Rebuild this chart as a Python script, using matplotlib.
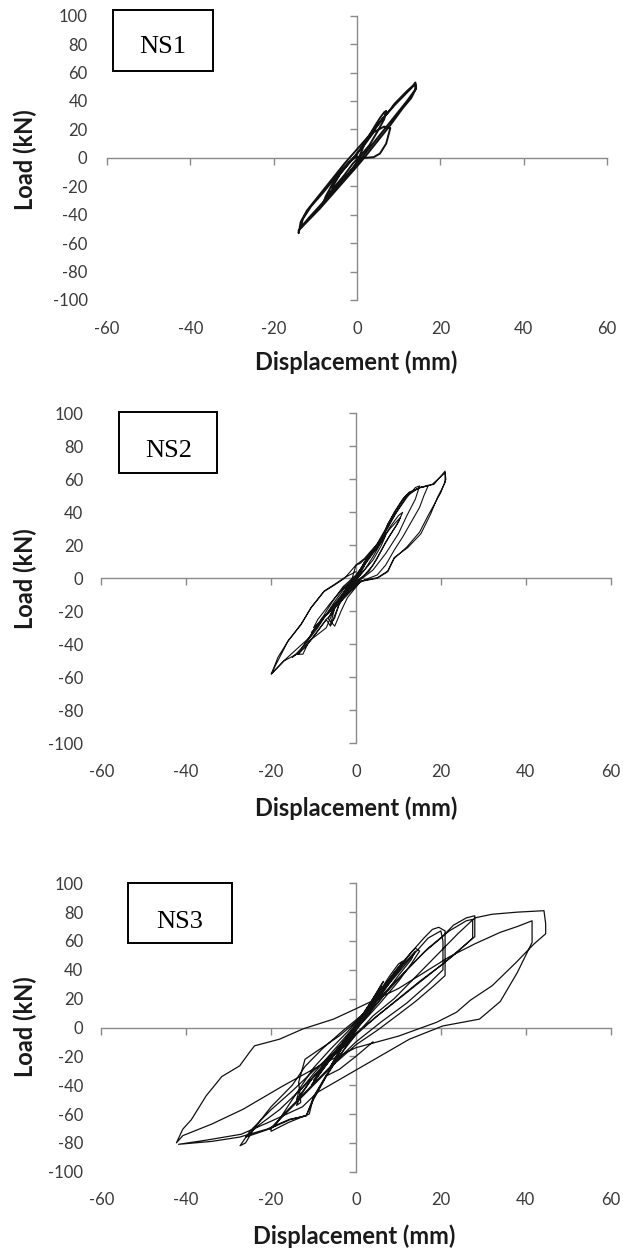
import matplotlib
matplotlib.use('Agg')
import matplotlib.pyplot as plt
from matplotlib.patches import Rectangle

# ---------------- data (displacement mm, load kN) ----------------
ns1_points = [
    (0, 0), (2, 0), (4, 0.5), (5.5, 3), (7, 10), (8, 21), (6.5, 22), (4, 18), (2, 10), (0, 3),
    (-2, -4), (-4, -11), (-5, -16), (-6, -21), (-5.5, -22), (-4, -18), (-2, -11), (0, -3), (1, 4),
    (2, 11), (4, 21), (5.5, 28), (6.5, 32), (7, 33), (6.5, 27), (5, 19), (3, 9), (1, 2), (-1, -4),
    (-3, -12), (-5, -19), (-7, -26), (-8, -31), (-7.5, -27), (-6, -19), (-4, -11), (-2, -4), (0, 3),
    (2, 11), (4, 19), (6, 27), (8, 34), (9, 38),
    (10, 41), (12, 47), (13.5, 51), (14, 53), (14.2, 49), (13, 42), (11, 35), (8, 23), (5, 12),
    (2, 1), (0, -6), (-3, -16), (-6, -26), (-9, -36), (-12, -45), (-14, -51), (-14, -53),
    (-13.5, -45), (-12, -37), (-9, -26), (-6, -15), (-3, -4), (0, 6), (3, 16), (6, 27), (9, 37),
    (11, 43), (13, 49), (14, 52), (14, 48), (12, 40), (9, 29), (6, 18), (3, 7), (0, -4),
    (-3, -14), (-6, -24), (-9, -34), (-11.5, -42), (-13.5, -49), (-13, -43), (-11, -34), (-8, -24),
    (-5, -13), (-2, -3), (0, 1),
]

ns2_points = [
    (0, 0), (1, 5), (2, 10), (3, 13), (2, 8), (0, 1), (-1, -4), (-2, -8), (-3, -12), (-2, -8), (0, 0),
    (1.5, 7), (3, 13), (1.5, 5), (0, -1), (-1.5, -6), (-3, -12), (-1.5, -5), (0, 0),
    (2, 9), (4, 17), (6, 24), (7, 28), (6, 22), (4, 13), (2, 5), (0, -1), (-2, -7), (-4, -13),
    (-6, -22), (-6.5, -24), (-5, -18), (-3, -9), (-1, -1), (0, 8), (1, 9), (3, 14), (5, 20), (7, 26),
    (6, 20), (4, 11), (1, 2), (-2, -8), (-5, -18), (-6, -28), (-5, -24), (-4, -16), (-2, -6), (0, 0),
    (2, 8), (4, 15), (6, 22), (8, 31), (10, 38), (11, 40), (10, 34), (8, 26), (6, 17), (4, 8), (2, 2),
    (0, -3), (-3, -10), (-6, -19), (-9, -28), (-10.5, -33), (-9, -29), (-7, -20), (-5, -12), (-3, -5),
    (0, 2), (3, 12), (6, 23), (8, 30), (10.5, 37), (9.5, 32), (7, 22), (5, 12), (3, 4), (0, -2),
    (-3, -11), (-6, -20), (-10, -30), (-9, -25), (-6, -15), (-3, -6), (0, 1),
    (3, 14), (5, 21), (7, 30), (9, 40), (11, 48), (12.5, 52), (15, 55), (17, 56), (16, 50), (15, 43),
    (13, 34), (11, 25), (9, 17), (7, 8), (5, 2), (2, -1), (0, -4), (-3, -12), (-5, -18), (-6, -24),
    (-7, -30), (-9, -34), (-11, -38), (-13.5, -46), (-14, -46), (-12, -40), (-9, -30), (-7, -22),
    (-5, -14), (-3, -7), (0, 1), (3, 12), (6, 24), (9, 38), (12, 49), (14, 55), (15, 56), (14, 48),
    (12, 38), (10, 27), (7, 15), (4, 5), (1, -1), (-2, -8), (-4, -16), (-6, -29), (-7, -25), (-9, -32),
    (-12, -42), (-15, -48), (-13, -43), (-10, -32), (-7, -22), (-4, -12), (-1, -2),
    (2, 9), (4, 17), (6, 24), (8, 33), (10, 42), (12, 50), (15, 55), (18, 57), (21, 64), (21.2, 60),
    (20, 52), (18.5, 45), (17, 38), (15, 28), (12, 19), (9, 12), (7.5, 4), (5, 0), (1, -2), (-2, -10),
    (-5, -18), (-8, -24), (-11, -36), (-14, -43), (-17, -50), (-20, -58), (-18, -48), (-16, -38),
    (-13, -28), (-10.6, -18), (-7.5, -8), (-5, -4), (-2.7, 0), (0, 8), (2, 12), (3.5, 16.5), (6, 23),
    (7.5, 33), (9.4, 41), (11.4, 49), (12.5, 52), (15.3, 55), (18.4, 57), (21, 65), (21, 58),
    (19.2, 49), (17.6, 39), (15.3, 27), (12.2, 18.6), (9, 12.5), (7.5, 4.4), (5.1, 0.4), (1.2, -1.6),
    (-2, -11.7), (-3.5, -19.8), (-5, -29), (-6.7, -24), (-11.4, -40), (-12.5, -46), (-14, -46),
    (-16.9, -50), (-19.9, -58), (-18.4, -48), (-16, -38), (-12.9, -28), (-10.6, -17.8), (-7.5, -7.7),
    (-5, -3.6), (-2.7, 0.4), (0, 4),
]

ns3_points = [
    (0, 0), (1.5, 8), (3, 15), (2, 10), (0, 2), (-1.5, -6), (-3, -14), (-2, -10), (0, -2), (1.5, 7),
    (3, 14), (2, 9), (0, 1), (-1.5, -7), (-3, -13), (-2, -9), (0, 0),
    (2, 10), (4, 20), (6, 30), (6.5, 32), (5, 24), (3, 14), (1, 5), (-1, -3), (-3, -12), (-5, -22),
    (-6.5, -30), (-6, -28), (-4, -18), (-2, -8), (0, 2), (2, 11), (4, 20), (6, 29), (5.5, 26), (3, 14),
    (0, 0), (-3, -13), (-6, -27), (-5, -22), (-3, -12), (0, 0),
    (3, 15), (6, 27), (8, 36), (10, 44), (11, 46), (10, 40), (7, 27), (4, 15), (1, 4), (-2, -7),
    (-5, -18), (-8, -30), (-10, -38), (-10.5, -40), (-9, -34), (-6, -22), (-3, -10), (0, 2), (3, 14),
    (6, 26), (9, 38), (10.5, 43), (9, 36), (6, 24), (2, 8), (-2, -8), (-6, -22), (-10, -37), (-9, -32),
    (-5, -17), (-1, -3),
    (2, 10), (5, 22), (8, 33), (11, 44), (13, 52), (14, 55), (15, 53), (13, 44), (10, 32), (6, 18),
    (2, 5), (-2, -7), (-6, -20), (-10, -34), (-13, -47), (-14, -54), (-13, -52), (-13.5, -38),
    (-12, -22), (-8, -14), (-4, -6), (0, 4), (4, 17), (8, 32), (11, 43), (14, 53), (13, 47), (10, 36),
    (6, 20), (2, 6), (-3, -10), (-7, -24), (-11, -38), (-14, -50), (-13.5, -45), (-10, -32), (-5, -15),
    (0, 2),
    (3, 15), (7, 30), (10, 42), (13, 52), (16, 62), (18, 68), (19.5, 69.5), (21, 67), (21, 50),
    (21, 36), (18, 28), (14, 18), (10, 9), (5, -2), (0, -12), (-5, -25), (-10, -40), (-15, -55),
    (-18, -64), (-20.3, -70.5), (-19, -68), (-15, -50), (-10, -28), (-6, -15), (-2, -3), (2, 10),
    (6, 24), (10, 38), (14, 52), (17, 62), (20, 67), (20.5, 60), (20.5, 40), (17, 30), (12, 17),
    (6, 4), (0, -10), (-6, -27), (-12, -45), (-17, -60), (-20, -70), (-20, -72), (-16, -66),
    (-11, -60), (-10, -48), (-7, -33), (-3, -16), (0, -2),
    (4, 14), (8, 27), (12, 40), (16, 52), (20, 62), (23, 71), (26, 76), (28, 77.5), (28, 70),
    (28, 63), (24, 53), (20, 43), (15, 32), (10, 20), (5, 8), (0, -4), (-5, -17), (-10, -30),
    (-15, -44), (-20, -57), (-25, -72), (-27.3, -82), (-26, -80), (-24, -70), (-20, -55), (-15, -40),
    (-12, -27), (-8, -15), (-3, -2), (2, 10), (7, 25), (12, 40), (17, 55), (22, 67), (26, 74),
    (27.5, 75), (27.5, 62), (23, 50), (17, 36), (11, 22), (5, 8), (0, -5), (-6, -22), (-12, -40),
    (-18, -57), (-23, -68), (-26, -76), (-21, -71), (-15.6, -64), (-11.7, -61), (-10, -50), (-7, -34),
    (-4, -20), (0, -5),
    (4, 8), (9, 20), (14, 35), (19, 50), (24, 65), (28, 76), (32, 78.5), (38, 80), (44.3, 81),
    (44.7, 72), (44.7, 65), (41.9, 57.8), (37.7, 45), (32.1, 29), (27, 19), (23.7, 10.6), (19, 3.6),
    (10, -6), (0, -14), (-7, -24), (-17.2, -40.5), (-26.6, -56.7), (-34, -67), (-40.8, -75),
    (-42.3, -80), (-40.8, -70.5), (-38.8, -64), (-35.3, -47.4), (-31.6, -34), (-27.4, -26.6),
    (-25.1, -17.3), (-23.9, -12.7), (-18, -8.1), (-12.5, -1), (-5.3, 5.8), (0, 13), (5, 20),
    (10, 27), (16, 38), (22, 49), (28, 58), (34, 66), (38, 70), (41.5, 74), (41.5, 67), (41.5, 59),
    (38, 38), (34, 18), (29.1, 5.8), (20.5, 1.1), (12.6, -8.1), (0.3, -29), (-9.1, -45),
    (-12.6, -55), (-20, -65), (-27, -74), (-35, -78), (-41.8, -81), (-34, -79), (-27.4, -76),
    (-21, -70.5), (-15.6, -63.6), (-11.7, -61.3), (-10.2, -49.7), (-7, -33.6), (-3.9, -29),
    (0, -20), (4, -10),
]

panel_names = ['NS1', 'NS2', 'NS3']
x_ticks = [-60, -40, -20, 0, 20, 40, 60]
y_ticks = [-100, -80, -60, -40, -20, 0, 20, 40, 60, 80, 100]
x_tick_labels = ['-60', '-40', '-20', '0', '20', '40', '60']
y_tick_labels = ['-100', '-80', '-60', '-40', '-20', '0', '20', '40', '60', '80', '100']
x_title = 'Displacement (mm)'
y_title = 'Load (kN)'

# ---------------- layout (pixels) ----------------
W, H = 623, 1249
plt.rcParams['font.family'] = ['Lato', 'DejaVu Sans']

fig = plt.figure(figsize=(W / 100, H / 100), dpi=100)

panels = [
    dict(ax=(107, 15.7, 607, 300), box=(113, 10, 212.5, 71), txt=(163, 53.3), ypad=14.0, xpad=15.0,
         xt=(356.6, 362), yt=159.5, lw=1.4, data=ns1_points),
    dict(ax=(101.3, 413.3, 610.6, 743.3), box=(119, 412, 217, 473), txt=(169, 456.7), ypad=13.0,
         xpad=15.0, xt=(356.6, 808), yt=578.5, lw=0.8, data=ns2_points),
    dict(ax=(101.3, 883.3, 610.6, 1171.7), box=(128, 883, 232.4, 943), txt=(180, 928.3), ypad=13.0,
         xpad=14.5, xt=(354.6, 1236), yt=1026.7, lw=0.9, data=ns3_points),
]

axis_gray = '#8a8a8a'
tick_col = '#3a3a3a'

for name, p in zip(panel_names, panels):
    l, t, r, b = p['ax']
    rect = [l / W, 1 - b / H, (r - l) / W, (b - t) / H]

    ax = fig.add_axes(rect)
    xs = [pt[0] for pt in p['data']]
    ys = [pt[1] for pt in p['data']]
    ax.plot(xs, ys, color='#111111', lw=p['lw'], solid_joinstyle='round', zorder=3)
    ax.set_xlim(-60, 60)
    ax.set_ylim(-100, 100)
    ax.set_xticks(x_ticks)
    ax.set_xticklabels(x_tick_labels)
    ax.set_yticks(y_ticks)
    ax.set_yticklabels(y_tick_labels)
    for s in ax.spines.values():
        s.set_visible(False)
    ax.tick_params(axis='x', length=0, pad=p['xpad'], labelsize=12, labelcolor=tick_col)
    ax.tick_params(axis='y', length=0, pad=p['ypad'], labelsize=12, labelcolor=tick_col)
    ax.patch.set_alpha(0)

    ax2 = fig.add_axes(rect, sharex=ax, sharey=ax)
    ax2.patch.set_alpha(0)
    ax2.spines['left'].set_position(('data', 0))
    ax2.spines['bottom'].set_position(('data', 0))
    ax2.spines['top'].set_visible(False)
    ax2.spines['right'].set_visible(False)
    for k in ('left', 'bottom'):
        ax2.spines[k].set_color(axis_gray)
        ax2.spines[k].set_linewidth(1.0)
    ax2.tick_params(direction='out', length=5, width=1.0, color=axis_gray,
                    labelleft=False, labelbottom=False)
    ax2.set_zorder(ax.get_zorder() - 1)

    bl, bt, br, bb = p['box']
    fig.patches.append(Rectangle((bl / W, 1 - bb / H), (br - bl) / W, (bb - bt) / H,
                                 transform=fig.transFigure, fill=True, facecolor='white',
                                 edgecolor='black', lw=1.4, zorder=5))
    fig.text(p['txt'][0] / W, 1 - p['txt'][1] / H, name, ha='center', va='baseline',
             fontsize=19, family=['Liberation Serif', 'DejaVu Serif'], color='black', zorder=6)

    fig.text(p['xt'][0] / W, 1 - p['xt'][1] / H, x_title, ha='center', va='center',
             fontsize=17, fontweight='bold', color='#1a1a1a')
    fig.text(25 / W, 1 - p['yt'] / H, y_title, ha='center', va='center', rotation=90,
             fontsize=17, fontweight='bold', color='#1a1a1a')

fig.savefig('out.png', dpi=100)
